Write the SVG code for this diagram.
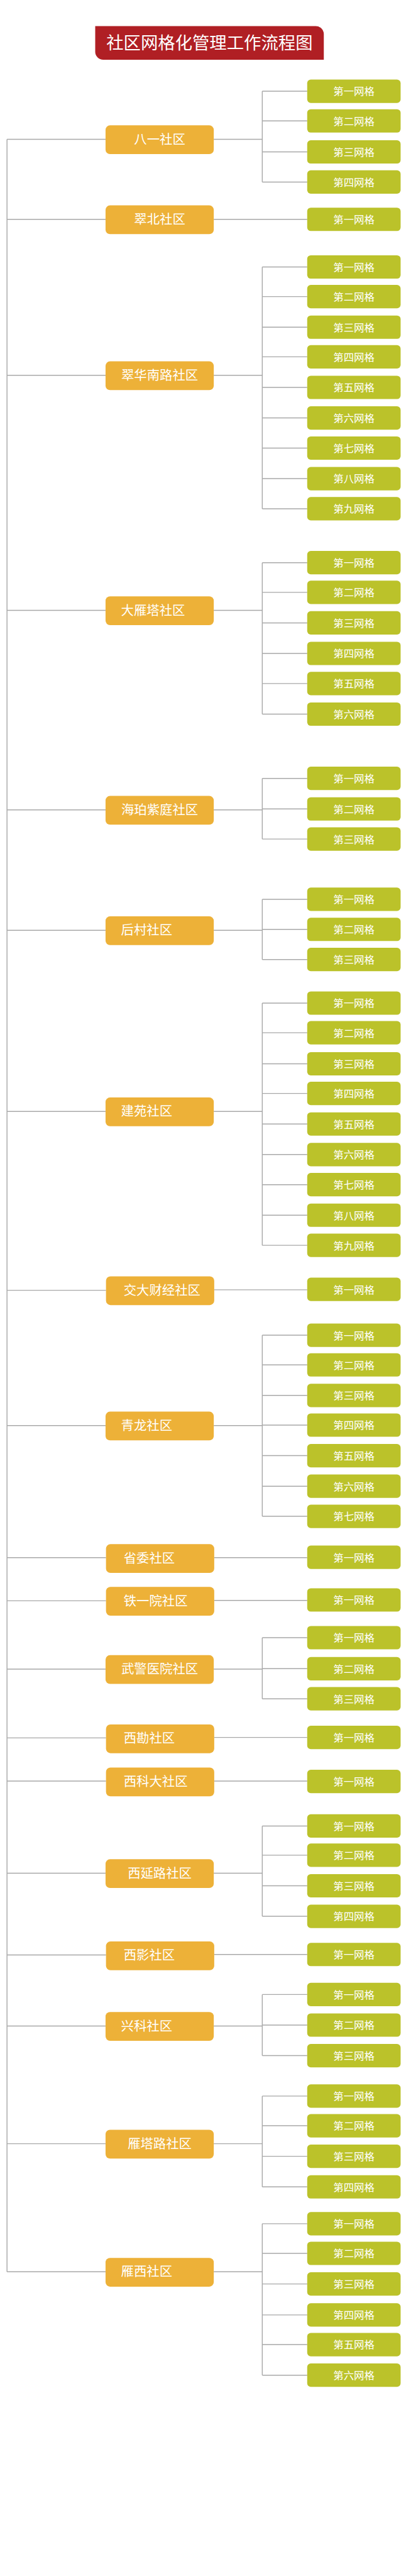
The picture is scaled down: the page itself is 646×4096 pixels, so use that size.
<svg xmlns="http://www.w3.org/2000/svg" width="646" height="4096" viewBox="0 0 646 4096">
<style>
.c{fill:#EDB138}
.g{fill:#BBC22A}
.t{font-family:"Noto Sans CJK SC","Noto Sans",sans-serif;fill:#FFFFFF}
.ct{font-size:28.5px}
.gt{font-size:23px;text-anchor:middle}
.mid{text-anchor:middle}
.ln{fill:none;stroke:#A8A8A8;stroke-width:2}
</style>
<rect width="646" height="4096" fill="#FFFFFF"/>
<g transform="scale(0.7146)">
<g id="title">
<path d="M212 58H703A18 18 0 0 1 721 76V133H230A18 18 0 0 1 212 115Z" fill="#B01F24"/>
<text class="t mid" x="466.5" y="109.5" font-size="38.3">社区网格化管理工作流程图</text>
</g>
<g id="connectors" class="ln">
<path d="M15.6 310V5055"/>
<path d="M15.6 310H235M476 310H584M584 203V405M584 203H684M584 269H684M584 338H684M584 405H684"/>
<path d="M15.6 488H235M476 488H684"/>
<path d="M15.6 835H235M476 835H584M584 594V1132M584 594H684M584 660H684M584 728H684M584 794H684M584 862H684M584 930H684M584 997H684M584 1065H684M584 1132H684"/>
<path d="M15.6 1358H235M476 1358H584M584 1252V1589M584 1252H684M584 1318H684M584 1386H684M584 1454H684M584 1521H684M584 1589H684"/>
<path d="M15.6 1802H235M476 1802H584M584 1732V1867M584 1732H684M584 1800H684M584 1867H684"/>
<path d="M15.6 2070H235M476 2070H584M584 2001V2135M584 2001H684M584 2068H684M584 2135H684"/>
<path d="M15.6 2473H235M476 2473H584M584 2232V2771M584 2232H684M584 2298H684M584 2367H684M584 2433H684M584 2501H684M584 2569H684M584 2636H684M584 2704H684M584 2771H684"/>
<path d="M15.6 2871H236M477 2870H684"/>
<path d="M15.6 3172H235M476 3172H584M584 2971V3374M584 2971H684M584 3037H684M584 3105H684M584 3171H684M584 3239H684M584 3307H684M584 3374H684"/>
<path d="M15.6 3466H236M477 3466H684"/>
<path d="M15.6 3562H236M477 3561H684"/>
<path d="M15.6 3714H235M476 3714H584M584 3644V3780M584 3644H684M584 3713H684M584 3780H684"/>
<path d="M15.6 3867H236M477 3866H684"/>
<path d="M15.6 3963H236M477 3963H684"/>
<path d="M15.6 4168H235M476 4168H584M584 4063V4264M584 4063H684M584 4128H684M584 4196H684M584 4264H684"/>
<path d="M15.6 4350H236M477 4349H684"/>
<path d="M15.6 4508H235M476 4508H584M584 4438V4574M584 4438H684M584 4506H684M584 4574H684"/>
<path d="M15.6 4770H235M476 4770H584M584 4664V4866M584 4664H684M584 4730H684M584 4798H684M584 4866H684"/>
<path d="M15.6 5055H235M476 5055H584M584 4948V5285M584 4948H684M584 5014H684M584 5082H684M584 5151H684M584 5217H684M584 5285H684"/>
</g>

<g id="c01"><rect class="c" x="235" y="279" width="241" height="64" rx="10"/><text class="t ct mid" x="355.5" y="320">八一社区</text></g>
<g id="c01-g1"><rect class="g" x="684" y="177" width="208" height="52" rx="8"/><text class="t gt" x="788" y="212">第一网格</text></g>
<g id="c01-g2"><rect class="g" x="684" y="243" width="208" height="52" rx="8"/><text class="t gt" x="788" y="278">第二网格</text></g>
<g id="c01-g3"><rect class="g" x="684" y="312" width="208" height="52" rx="8"/><text class="t gt" x="788" y="347">第三网格</text></g>
<g id="c01-g4"><rect class="g" x="684" y="379" width="208" height="52" rx="8"/><text class="t gt" x="788" y="414">第四网格</text></g>

<g id="c02"><rect class="c" x="235" y="457" width="241" height="64" rx="10"/><text class="t ct mid" x="355.5" y="498">翠北社区</text></g>
<g id="c02-g1"><rect class="g" x="684" y="462" width="208" height="52" rx="8"/><text class="t gt" x="788" y="497">第一网格</text></g>

<g id="c03"><rect class="c" x="235" y="804" width="241" height="64" rx="10"/><text class="t ct mid" x="355.5" y="845">翠华南路社区</text></g>
<g id="c03-g1"><rect class="g" x="684" y="568" width="208" height="52" rx="8"/><text class="t gt" x="788" y="603">第一网格</text></g>
<g id="c03-g2"><rect class="g" x="684" y="634" width="208" height="52" rx="8"/><text class="t gt" x="788" y="669">第二网格</text></g>
<g id="c03-g3"><rect class="g" x="684" y="702" width="208" height="52" rx="8"/><text class="t gt" x="788" y="737">第三网格</text></g>
<g id="c03-g4"><rect class="g" x="684" y="768" width="208" height="52" rx="8"/><text class="t gt" x="788" y="803">第四网格</text></g>
<g id="c03-g5"><rect class="g" x="684" y="836" width="208" height="52" rx="8"/><text class="t gt" x="788" y="871">第五网格</text></g>
<g id="c03-g6"><rect class="g" x="684" y="904" width="208" height="52" rx="8"/><text class="t gt" x="788" y="939">第六网格</text></g>
<g id="c03-g7"><rect class="g" x="684" y="971" width="208" height="52" rx="8"/><text class="t gt" x="788" y="1006">第七网格</text></g>
<g id="c03-g8"><rect class="g" x="684" y="1039" width="208" height="52" rx="8"/><text class="t gt" x="788" y="1074">第八网格</text></g>
<g id="c03-g9"><rect class="g" x="684" y="1106" width="208" height="52" rx="8"/><text class="t gt" x="788" y="1141">第九网格</text></g>

<g id="c04"><rect class="c" x="235" y="1327" width="241" height="64" rx="10"/><text class="t ct" x="269.5" y="1368">大雁塔社区</text></g>
<g id="c04-g1"><rect class="g" x="684" y="1226" width="208" height="52" rx="8"/><text class="t gt" x="788" y="1261">第一网格</text></g>
<g id="c04-g2"><rect class="g" x="684" y="1292" width="208" height="52" rx="8"/><text class="t gt" x="788" y="1327">第二网格</text></g>
<g id="c04-g3"><rect class="g" x="684" y="1360" width="208" height="52" rx="8"/><text class="t gt" x="788" y="1395">第三网格</text></g>
<g id="c04-g4"><rect class="g" x="684" y="1428" width="208" height="52" rx="8"/><text class="t gt" x="788" y="1463">第四网格</text></g>
<g id="c04-g5"><rect class="g" x="684" y="1495" width="208" height="52" rx="8"/><text class="t gt" x="788" y="1530">第五网格</text></g>
<g id="c04-g6"><rect class="g" x="684" y="1563" width="208" height="52" rx="8"/><text class="t gt" x="788" y="1598">第六网格</text></g>

<g id="c05"><rect class="c" x="235" y="1771" width="241" height="64" rx="10"/><text class="t ct mid" x="355.5" y="1812">海珀紫庭社区</text></g>
<g id="c05-g1"><rect class="g" x="684" y="1706" width="208" height="52" rx="8"/><text class="t gt" x="788" y="1741">第一网格</text></g>
<g id="c05-g2"><rect class="g" x="684" y="1774" width="208" height="52" rx="8"/><text class="t gt" x="788" y="1809">第二网格</text></g>
<g id="c05-g3"><rect class="g" x="684" y="1841" width="208" height="52" rx="8"/><text class="t gt" x="788" y="1876">第三网格</text></g>

<g id="c06"><rect class="c" x="235" y="2039" width="241" height="64" rx="10"/><text class="t ct" x="269.5" y="2080">后村社区</text></g>
<g id="c06-g1"><rect class="g" x="684" y="1975" width="208" height="52" rx="8"/><text class="t gt" x="788" y="2010">第一网格</text></g>
<g id="c06-g2"><rect class="g" x="684" y="2042" width="208" height="52" rx="8"/><text class="t gt" x="788" y="2077">第二网格</text></g>
<g id="c06-g3"><rect class="g" x="684" y="2109" width="208" height="52" rx="8"/><text class="t gt" x="788" y="2144">第三网格</text></g>

<g id="c07"><rect class="c" x="235" y="2442" width="241" height="64" rx="10"/><text class="t ct" x="269.5" y="2483">建苑社区</text></g>
<g id="c07-g1"><rect class="g" x="684" y="2206" width="208" height="52" rx="8"/><text class="t gt" x="788" y="2241">第一网格</text></g>
<g id="c07-g2"><rect class="g" x="684" y="2272" width="208" height="52" rx="8"/><text class="t gt" x="788" y="2307">第二网格</text></g>
<g id="c07-g3"><rect class="g" x="684" y="2341" width="208" height="52" rx="8"/><text class="t gt" x="788" y="2376">第三网格</text></g>
<g id="c07-g4"><rect class="g" x="684" y="2407" width="208" height="52" rx="8"/><text class="t gt" x="788" y="2442">第四网格</text></g>
<g id="c07-g5"><rect class="g" x="684" y="2475" width="208" height="52" rx="8"/><text class="t gt" x="788" y="2510">第五网格</text></g>
<g id="c07-g6"><rect class="g" x="684" y="2543" width="208" height="52" rx="8"/><text class="t gt" x="788" y="2578">第六网格</text></g>
<g id="c07-g7"><rect class="g" x="684" y="2610" width="208" height="52" rx="8"/><text class="t gt" x="788" y="2645">第七网格</text></g>
<g id="c07-g8"><rect class="g" x="684" y="2678" width="208" height="52" rx="8"/><text class="t gt" x="788" y="2713">第八网格</text></g>
<g id="c07-g9"><rect class="g" x="684" y="2745" width="208" height="52" rx="8"/><text class="t gt" x="788" y="2780">第九网格</text></g>

<g id="c08"><rect class="c" x="236" y="2840" width="241" height="64" rx="10"/><text class="t ct" x="275.3" y="2881">交大财经社区</text></g>
<g id="c08-g1"><rect class="g" x="684" y="2843" width="208" height="52" rx="8"/><text class="t gt" x="788" y="2878">第一网格</text></g>

<g id="c09"><rect class="c" x="235" y="3141" width="241" height="64" rx="10"/><text class="t ct" x="269.5" y="3182">青龙社区</text></g>
<g id="c09-g1"><rect class="g" x="684" y="2945" width="208" height="52" rx="8"/><text class="t gt" x="788" y="2980">第一网格</text></g>
<g id="c09-g2"><rect class="g" x="684" y="3011" width="208" height="52" rx="8"/><text class="t gt" x="788" y="3046">第二网格</text></g>
<g id="c09-g3"><rect class="g" x="684" y="3079" width="208" height="52" rx="8"/><text class="t gt" x="788" y="3114">第三网格</text></g>
<g id="c09-g4"><rect class="g" x="684" y="3145" width="208" height="52" rx="8"/><text class="t gt" x="788" y="3180">第四网格</text></g>
<g id="c09-g5"><rect class="g" x="684" y="3213" width="208" height="52" rx="8"/><text class="t gt" x="788" y="3248">第五网格</text></g>
<g id="c09-g6"><rect class="g" x="684" y="3281" width="208" height="52" rx="8"/><text class="t gt" x="788" y="3316">第六网格</text></g>
<g id="c09-g7"><rect class="g" x="684" y="3348" width="208" height="52" rx="8"/><text class="t gt" x="788" y="3383">第七网格</text></g>

<g id="c10"><rect class="c" x="236" y="3436" width="241" height="64" rx="10"/><text class="t ct" x="275.3" y="3477">省委社区</text></g>
<g id="c10-g1"><rect class="g" x="684" y="3439" width="208" height="52" rx="8"/><text class="t gt" x="788" y="3474">第一网格</text></g>

<g id="c11"><rect class="c" x="236" y="3531" width="241" height="64" rx="10"/><text class="t ct" x="275.3" y="3572">铁一院社区</text></g>
<g id="c11-g1"><rect class="g" x="684" y="3534" width="208" height="52" rx="8"/><text class="t gt" x="788" y="3569">第一网格</text></g>

<g id="c12"><rect class="c" x="235" y="3683" width="241" height="64" rx="10"/><text class="t ct mid" x="355.5" y="3724">武警医院社区</text></g>
<g id="c12-g1"><rect class="g" x="684" y="3618" width="208" height="52" rx="8"/><text class="t gt" x="788" y="3653">第一网格</text></g>
<g id="c12-g2"><rect class="g" x="684" y="3687" width="208" height="52" rx="8"/><text class="t gt" x="788" y="3722">第二网格</text></g>
<g id="c12-g3"><rect class="g" x="684" y="3754" width="208" height="52" rx="8"/><text class="t gt" x="788" y="3789">第三网格</text></g>

<g id="c13"><rect class="c" x="236" y="3837" width="241" height="64" rx="10"/><text class="t ct" x="275.3" y="3878">西勘社区</text></g>
<g id="c13-g1"><rect class="g" x="684" y="3840" width="208" height="52" rx="8"/><text class="t gt" x="788" y="3875">第一网格</text></g>

<g id="c14"><rect class="c" x="236" y="3933" width="241" height="64" rx="10"/><text class="t ct" x="275.3" y="3974">西科大社区</text></g>
<g id="c14-g1"><rect class="g" x="684" y="3938" width="208" height="52" rx="8"/><text class="t gt" x="788" y="3973">第一网格</text></g>

<g id="c15"><rect class="c" x="235" y="4137" width="241" height="64" rx="10"/><text class="t ct mid" x="355.5" y="4178">西延路社区</text></g>
<g id="c15-g1"><rect class="g" x="684" y="4037" width="208" height="52" rx="8"/><text class="t gt" x="788" y="4072">第一网格</text></g>
<g id="c15-g2"><rect class="g" x="684" y="4102" width="208" height="52" rx="8"/><text class="t gt" x="788" y="4137">第二网格</text></g>
<g id="c15-g3"><rect class="g" x="684" y="4170" width="208" height="52" rx="8"/><text class="t gt" x="788" y="4205">第三网格</text></g>
<g id="c15-g4"><rect class="g" x="684" y="4238" width="208" height="52" rx="8"/><text class="t gt" x="788" y="4273">第四网格</text></g>

<g id="c16"><rect class="c" x="236" y="4320" width="241" height="64" rx="10"/><text class="t ct" x="275.3" y="4361">西影社区</text></g>
<g id="c16-g1"><rect class="g" x="684" y="4323" width="208" height="52" rx="8"/><text class="t gt" x="788" y="4358">第一网格</text></g>

<g id="c17"><rect class="c" x="235" y="4477" width="241" height="64" rx="10"/><text class="t ct" x="269.5" y="4518">兴科社区</text></g>
<g id="c17-g1"><rect class="g" x="684" y="4412" width="208" height="52" rx="8"/><text class="t gt" x="788" y="4447">第一网格</text></g>
<g id="c17-g2"><rect class="g" x="684" y="4480" width="208" height="52" rx="8"/><text class="t gt" x="788" y="4515">第二网格</text></g>
<g id="c17-g3"><rect class="g" x="684" y="4548" width="208" height="52" rx="8"/><text class="t gt" x="788" y="4583">第三网格</text></g>

<g id="c18"><rect class="c" x="235" y="4739" width="241" height="64" rx="10"/><text class="t ct mid" x="355.5" y="4780">雁塔路社区</text></g>
<g id="c18-g1"><rect class="g" x="684" y="4638" width="208" height="52" rx="8"/><text class="t gt" x="788" y="4673">第一网格</text></g>
<g id="c18-g2"><rect class="g" x="684" y="4704" width="208" height="52" rx="8"/><text class="t gt" x="788" y="4739">第二网格</text></g>
<g id="c18-g3"><rect class="g" x="684" y="4772" width="208" height="52" rx="8"/><text class="t gt" x="788" y="4807">第三网格</text></g>
<g id="c18-g4"><rect class="g" x="684" y="4840" width="208" height="52" rx="8"/><text class="t gt" x="788" y="4875">第四网格</text></g>

<g id="c19"><rect class="c" x="235" y="5024" width="241" height="64" rx="10"/><text class="t ct" x="269.5" y="5065">雁西社区</text></g>
<g id="c19-g1"><rect class="g" x="684" y="4922" width="208" height="52" rx="8"/><text class="t gt" x="788" y="4957">第一网格</text></g>
<g id="c19-g2"><rect class="g" x="684" y="4988" width="208" height="52" rx="8"/><text class="t gt" x="788" y="5023">第二网格</text></g>
<g id="c19-g3"><rect class="g" x="684" y="5056" width="208" height="52" rx="8"/><text class="t gt" x="788" y="5091">第三网格</text></g>
<g id="c19-g4"><rect class="g" x="684" y="5125" width="208" height="52" rx="8"/><text class="t gt" x="788" y="5160">第四网格</text></g>
<g id="c19-g5"><rect class="g" x="684" y="5191" width="208" height="52" rx="8"/><text class="t gt" x="788" y="5226">第五网格</text></g>
<g id="c19-g6"><rect class="g" x="684" y="5259" width="208" height="52" rx="8"/><text class="t gt" x="788" y="5294">第六网格</text></g>
</g>
</svg>
